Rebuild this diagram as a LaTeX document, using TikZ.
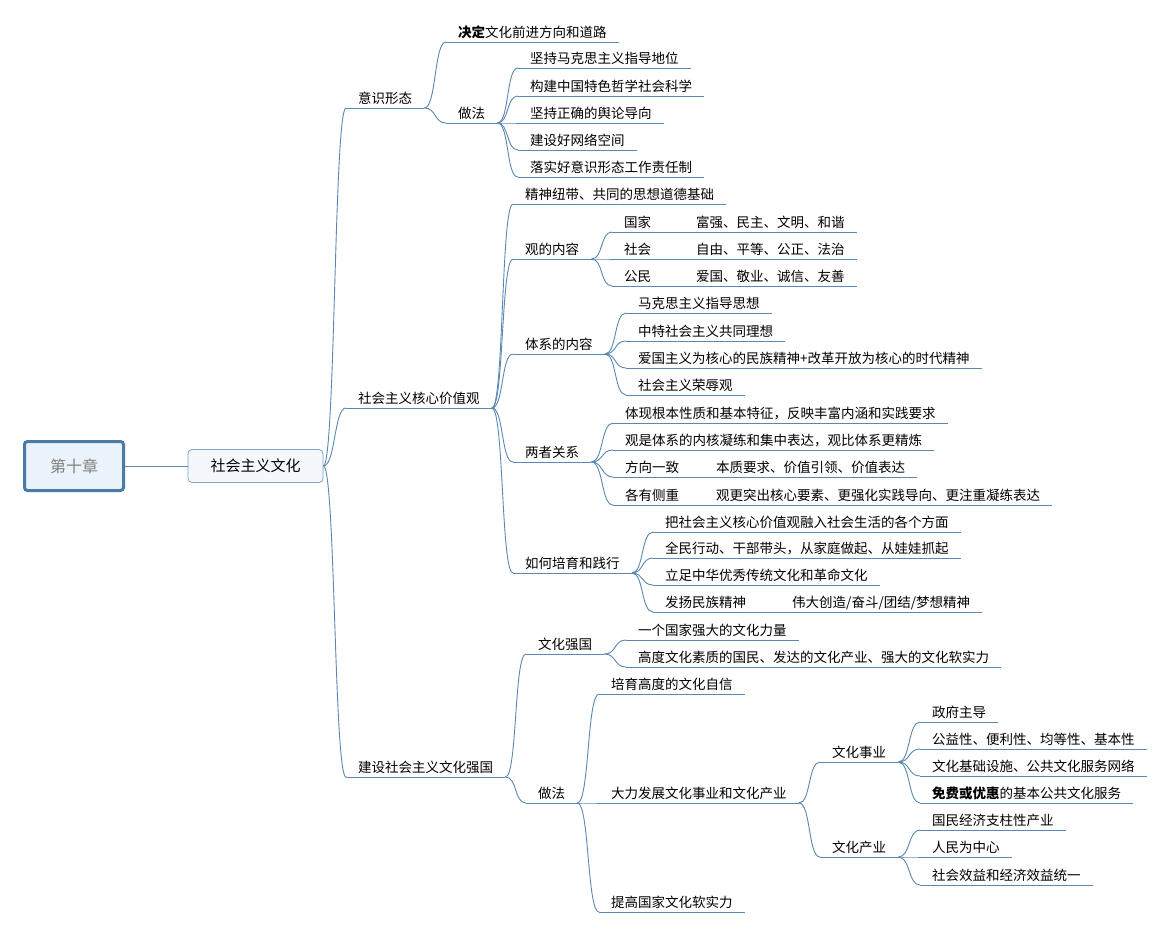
\documentclass[tikz,border=0pt]{standalone}
\usepackage{fontspec}
\setmainfont{Noto Sans CJK SC}
\definecolor{linkblue}{HTML}{5A88B0}
\definecolor{rootline}{HTML}{4A7BA6}
\definecolor{rootfill}{HTML}{EAF2FB}
\definecolor{mainline}{HTML}{7FA4C4}
\definecolor{mainfill}{HTML}{F4F8FD}

\begin{document}
\begin{tikzpicture}[x=1pt, y=-1pt,
		topic/.style={anchor=south west, inner xsep=12pt, inner ysep=2.5pt, text height=10pt, text depth=1.5pt, font=\fontsize{13.5}{16}\selectfont},
		link/.style={draw=linkblue, line width=0.9pt, to path={.. controls +(12,0) and +(-12,0) .. (\tikztotarget)}},
		uline/.style={draw=linkblue, line width=0.9pt}]
	\useasboundingbox (0,0) rectangle (1166,933);

	% centre
	\node[draw=rootline, line width=3pt, fill=rootfill, rounded corners=3pt, minimum width=99pt, minimum height=49pt, text=gray, font=\fontsize{16}{18}\selectfont] (ch) at (74,466) {第十章};
	\node[draw=mainline, line width=0.8pt, fill=mainfill, rounded corners=4pt, minimum width=135pt, minimum height=33pt, font=\fontsize{15}{17}\selectfont] (wh) at (255.5,466) {社会主义文化};

	% first level
	\node[topic] (yishi) at (346,108) {意识形态};
	\node[topic] (hexin) at (346,408) {社会主义核心价值观};
	\node[topic] (jianshe) at (346,777) {建设社会主义文化强国};

	% ideology
	\node[topic] (jueding) at (446,42) {\textbf{决定}文化前进方向和道路};
	\node[topic] (zuofa1) at (446,123) {做法};
	\node[topic] (z1a) at (518,68) {坚持马克思主义指导地位};
	\node[topic] (z1b) at (518,96) {构建中国特色哲学社会科学};
	\node[topic] (z1c) at (518,123) {坚持正确的舆论导向};
	\node[topic] (z1d) at (518,150) {建设好网络空间};
	\node[topic] (z1e) at (518,177) {落实好意识形态工作责任制};

	% core values
	\node[topic] (jingshen) at (513,204) {精神纽带、共同的思想道德基础};
	\node[topic] (guan) at (513,259) {观的内容};
	\node[topic] (tixi) at (513,354) {体系的内容};
	\node[topic] (liangzhe) at (513,462) {两者关系};
	\node[topic] (ruhe) at (513,573) {如何培育和践行};

	\node[topic] (gj) at (612,232) {国家};
	\node[topic] (gjv) at (684,232) {富强、民主、文明、和谐};
	\node[topic] (sh) at (612,259) {社会};
	\node[topic] (shv) at (684,259) {自由、平等、公正、法治};
	\node[topic] (gm) at (612,286) {公民};
	\node[topic] (gmv) at (684,286) {爱国、敬业、诚信、友善};

	\node[topic] (tx1) at (626,313) {马克思主义指导思想};
	\node[topic] (tx2) at (626,341) {中特社会主义共同理想};
	\node[topic] (tx3) at (626,368) {爱国主义为核心的民族精神+改革开放为核心的时代精神};
	\node[topic] (tx4) at (626,395) {社会主义荣辱观};

	\node[topic] (lz1) at (613,423) {体现根本性质和基本特征，反映丰富内涵和实践要求};
	\node[topic] (lz2) at (613,450) {观是体系的内核凝练和集中表达，观比体系更精炼};
	\node[topic] (fx) at (613,477) {方向一致};
	\node[topic] (fxv) at (704,477) {本质要求、价值引领、价值表达};
	\node[topic] (gy) at (613,505) {各有侧重};
	\node[topic] (gyv) at (704,505) {观更突出核心要素、更强化实践导向、更注重凝练表达};

	\node[topic] (rh1) at (653,532) {把社会主义核心价值观融入社会生活的各个方面};
	\node[topic] (rh2) at (653,558) {全民行动、干部带头，从家庭做起、从娃娃抓起};
	\node[topic] (rh3) at (653,585) {立足中华优秀传统文化和革命文化};
	\node[topic] (mz) at (653,612) {发扬民族精神};
	\node[topic] (mzv) at (780,612) {伟大创造/奋斗/团结/梦想精神};

	% strong culture
	\node[topic] (qiangguo) at (526,654) {文化强国};
	\node[topic] (zuofa2) at (526,803) {做法};
	\node[topic] (qg1) at (626,640) {一个国家强大的文化力量};
	\node[topic] (qg2) at (626,667) {高度文化素质的国民、发达的文化产业、强大的文化软实力};

	\node[topic] (zx) at (599,694) {培育高度的文化自信};
	\node[topic] (dali) at (599,803) {大力发展文化事业和文化产业};
	\node[topic] (rsl) at (599,912) {提高国家文化软实力};

	\node[topic] (shiye) at (820,762) {文化事业};
	\node[topic] (chanye) at (820,857) {文化产业};

	\node[topic] (sy1) at (920,722) {政府主导};
	\node[topic] (sy2) at (920,749) {公益性、便利性、均等性、基本性};
	\node[topic] (sy3) at (920,776) {文化基础设施、公共文化服务网络};
	\node[topic] (sy4) at (920,803) {\textbf{免费或优惠}的基本公共文化服务};
	\node[topic] (cy1) at (920,830) {国民经济支柱性产业};
	\node[topic] (cy2) at (920,857) {人民为中心};
	\node[topic] (cy3) at (920,885) {社会效益和经济效益统一};

	% underlines
	\foreach \n in {yishi,hexin,jianshe,jueding,zuofa1,z1a,z1b,z1c,z1d,z1e,jingshen,guan,tixi,liangzhe,ruhe,tx1,tx2,tx3,tx4,lz1,lz2,rh1,rh2,rh3,qiangguo,zuofa2,qg1,qg2,zx,dali,rsl,shiye,chanye,sy1,sy2,sy3,sy4,cy1,cy2,cy3}
		\draw[uline] (\n.south west) -- (\n.south east);
	\draw[uline] (gj.south west) -- (gjv.south east);
	\draw[uline] (sh.south west) -- (shv.south east);
	\draw[uline] (gm.south west) -- (gmv.south east);
	\draw[uline] (fx.south west) -- (fxv.south east);
	\draw[uline] (gy.south west) -- (gyv.south east);
	\draw[uline] (mz.south west) -- (mzv.south east);

	% connectors
	\draw[uline] (ch) -- (wh);
	\foreach \c in {yishi,hexin,jianshe}
		\draw[link] (wh.east) to (\c.south west);
	\foreach \c in {jueding,zuofa1}
		\draw[link] (yishi.south east) to (\c.south west);
	\foreach \c in {z1a,z1b,z1c,z1d,z1e}
		\draw[link] (zuofa1.south east) to (\c.south west);
	\foreach \c in {jingshen,guan,tixi,liangzhe,ruhe}
		\draw[link] (hexin.south east) to (\c.south west);
	\foreach \c in {gj,sh,gm}
		\draw[link] (guan.south east) to (\c.south west);
	\foreach \c in {tx1,tx2,tx3,tx4}
		\draw[link] (tixi.south east) to (\c.south west);
	\foreach \c in {lz1,lz2,fx,gy}
		\draw[link] (liangzhe.south east) to (\c.south west);
	\foreach \c in {rh1,rh2,rh3,mz}
		\draw[link] (ruhe.south east) to (\c.south west);
	\foreach \c in {qiangguo,zuofa2}
		\draw[link] (jianshe.south east) to (\c.south west);
	\foreach \c in {qg1,qg2}
		\draw[link] (qiangguo.south east) to (\c.south west);
	\foreach \c in {zx,dali,rsl}
		\draw[link] (zuofa2.south east) to (\c.south west);
	\foreach \c in {shiye,chanye}
		\draw[link] (dali.south east) to (\c.south west);
	\foreach \c in {sy1,sy2,sy3,sy4}
		\draw[link] (shiye.south east) to (\c.south west);
	\foreach \c in {cy1,cy2,cy3}
		\draw[link] (chanye.south east) to (\c.south west);
\end{tikzpicture}
\end{document}
